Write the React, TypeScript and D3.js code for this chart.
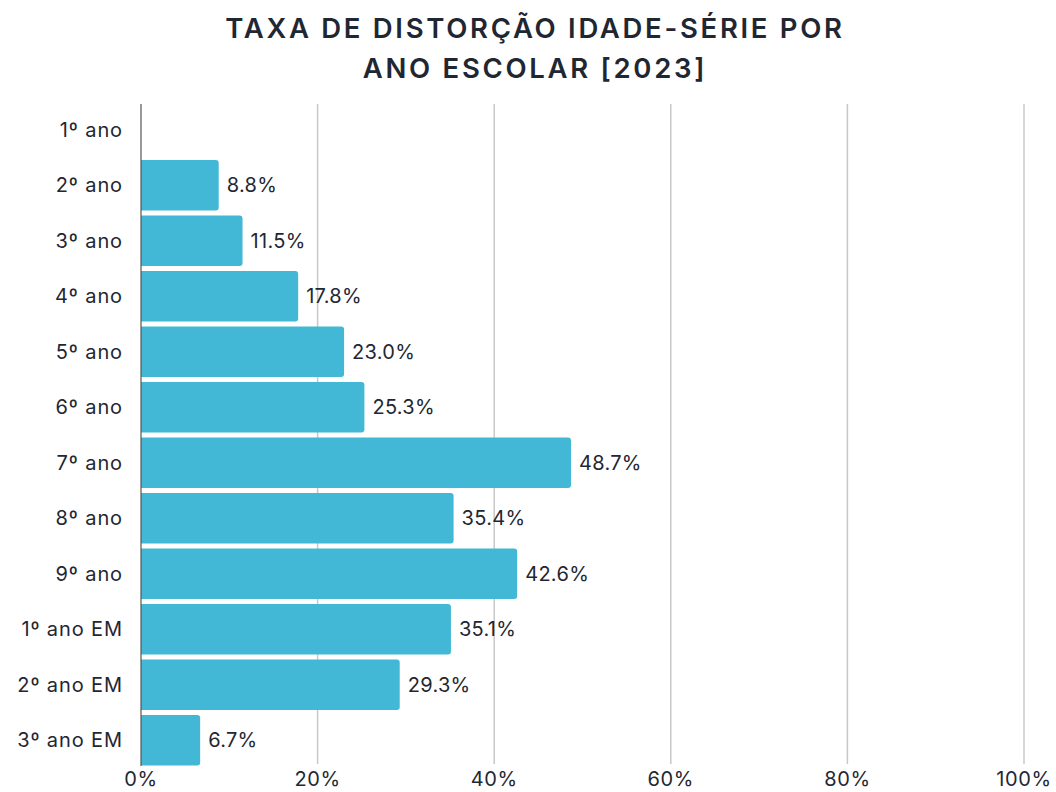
import React from "react";
import * as d3 from "d3";

const categories = ["1º ano", "2º ano", "3º ano", "4º ano", "5º ano", "6º ano", "7º ano", "8º ano", "9º ano", "1º ano EM", "2º ano EM", "3º ano EM"];
const values = [0, 8.8, 11.5, 17.8, 23.0, 25.3, 48.7, 35.4, 42.6, 35.1, 29.3, 6.7];
const xTicks = [0, 20, 40, 60, 80, 100];
const titleLines = ["TAXA DE DISTORÇÃO IDADE-SÉRIE POR", "ANO ESCOLAR [2023]"];

const W = 1056, H = 792;
const left = 141, right = 1024, top = 102, bottom = 768;
const font = "Inter, 'Open Sans', sans-serif";
const ink = "#1f2733";

export default function App() {
  const x = d3.scaleLinear().domain([0, 100]).range([left, right]);
  const y = d3.scaleBand<string>().domain(categories).range([top, bottom]).paddingInner(0.09).paddingOuter(0.045);
  const r = 3;
  const barPath = (v: number, yy: number, h: number) => {
    const x0 = x(0), x1 = x(v);
    if (x1 - x0 <= 0) return "";
    const rr = Math.min(r, (x1 - x0) / 2);
    return `M${x0},${yy}H${x1 - rr}Q${x1},${yy} ${x1},${yy + rr}V${yy + h - rr}Q${x1},${yy + h} ${x1 - rr},${yy + h}H${x0}Z`;
  };
  return (
    <svg width={W} height={H} style={{ position: "absolute", left: 0, top: 0, background: "#fff" }} fontFamily={font}>
      {titleLines.map((t, i) => (
        <text key={t} x={535} y={38 + i * 40} textAnchor="middle" fontSize={27.5} fontWeight={600} letterSpacing={2.7} fill={ink}>{t}</text>
      ))}
      {xTicks.slice(1).map((t) => (
        <line key={t} x1={x(t)} x2={x(t)} y1={104} y2={764} stroke="#c8c8c8" strokeWidth={1.5} />
      ))}
      {categories.map((c, i) => {
        const yy = y(c)!;
        const h = y.bandwidth();
        return (
          <g key={c}>
            <path d={barPath(values[i], yy, h)} fill="#42b7d6" />
            <text x={123} y={yy + h / 2} dy="0.36em" textAnchor="end" fontSize={20} letterSpacing={0.9} fill={ink}>{c}</text>
            {values[i] > 0 && (
              <text x={x(values[i]) + 8} y={yy + h / 2} dy="0.36em" fontSize={20} letterSpacing={0.3} fill={ink}>{values[i].toFixed(1)}%</text>
            )}
          </g>
        );
      })}
      <line x1={x(0)} x2={x(0)} y1={104} y2={766} stroke="#555" strokeWidth={1.2} />
      {xTicks.map((t) => (
        <text key={t} x={x(t)} y={786} textAnchor="middle" fontSize={20} letterSpacing={0.6} fill={ink}>{t}%</text>
      ))}
    </svg>
  );
}
